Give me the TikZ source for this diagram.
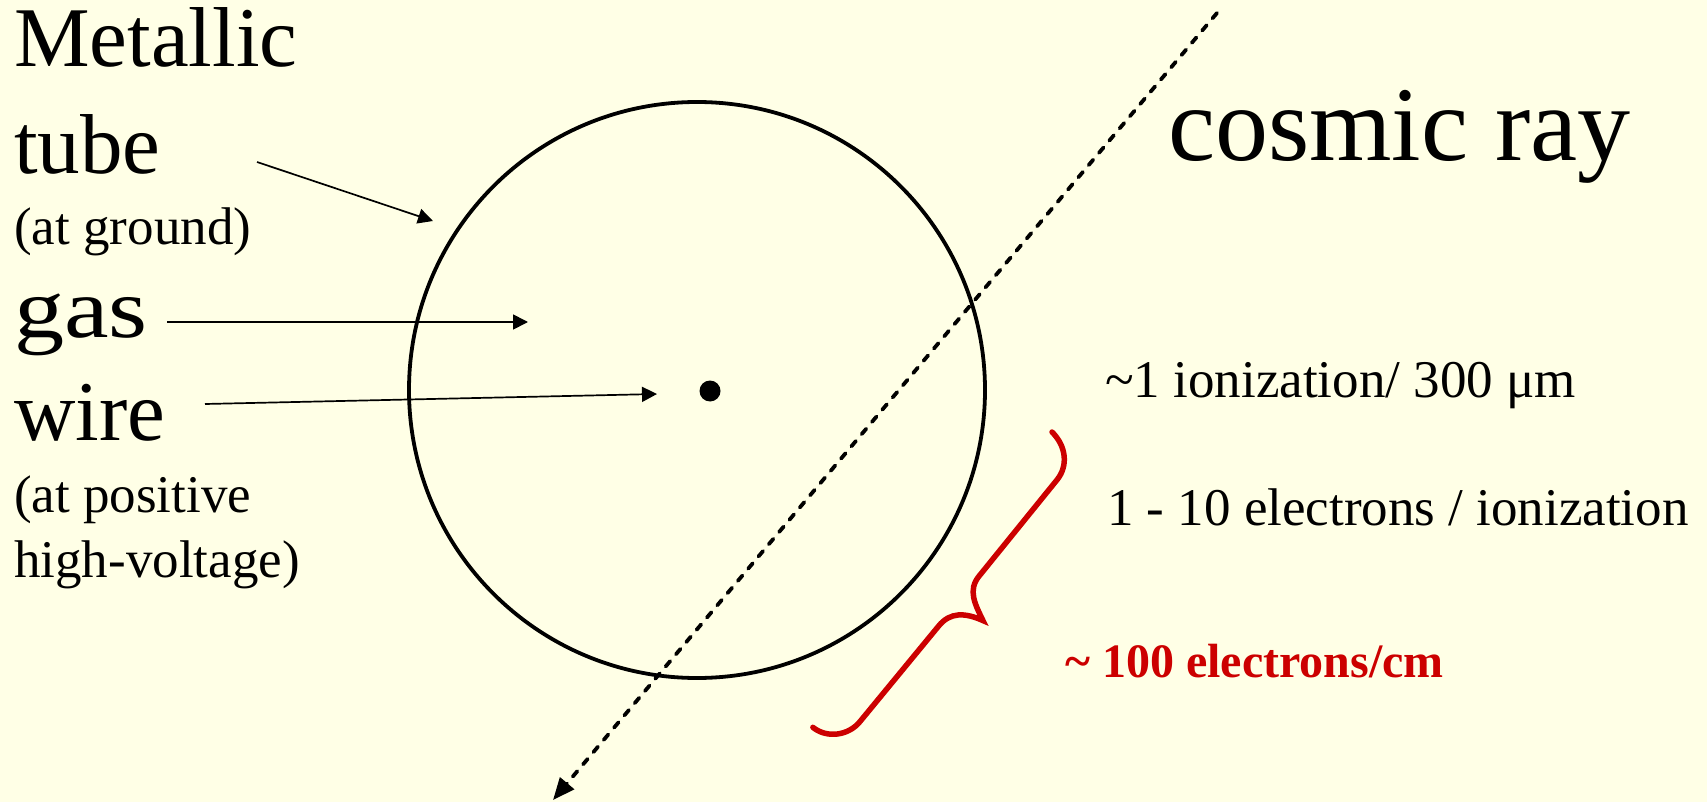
\documentclass[tikz,border=0pt]{standalone}
\usepackage{fontspec}
\setmainfont{Liberation Serif}
\usepackage{graphicx}
\usepackage{tikz}
\usetikzlibrary{arrows.meta,positioning}
\definecolor{paper}{HTML}{FFFFE6}
\definecolor{braced}{HTML}{CC0000}
\tikzset{
  bigword/.style={
    anchor=base west, inner sep=0pt,
    font=\fontsize{85}{102}\selectfont
  },
  smallword/.style={
    anchor=base west, inner sep=0pt,
    font=\fontsize{53}{64}\selectfont
  },
  pointer/.style={
    -{Triangle[length=15pt,width=15pt]}, line width=1.7pt
  },
  rayline/.style={
    -{Triangle[length=22pt,width=18pt]}, line width=3.8pt,
    dash pattern=on 7pt off 9pt, line cap=round
  },
  redbrace/.style={
    line width=5.5pt, color=braced, line cap=round
  },
}

\begin{document}
\begin{tikzpicture}[x=1pt,y=-1pt]
  \fill[paper] (0,0) rectangle (1707,802);
  \useasboundingbox (0,0) rectangle (1707,802);

  % tube and wire
  \node[circle, draw, line width=3.8pt, minimum size=576pt,
    inner sep=0pt] (tube) at (697,390) {};
  \node[circle, fill, minimum size=21pt, inner sep=0pt]
    (wire) at (710,391) {};

  % left labels
  \node[bigword] (metal) at (14,67) {Metallic};
  \node[bigword] (tubeword) at (14,174) {tube};
  \node[smallword] (ground) at (14,245) {(at ground)};
  \node[bigword] (gasword) at (14,337) {\scalebox{1.18}[1]{gas}};
  \node[bigword] (wireword) at (14,440) {wire};
  \node[smallword] (pos) at (14,512) {(at positive};
  \node[smallword] (hv) at (14,577) {high-voltage)};

  \coordinate (tubefrom) at (257,162);
  \coordinate (tubeto) at (433,221);
  \coordinate (gasfrom) at (167,322);
  \coordinate (gasto) at (528,322);
  \coordinate (wirefrom) at (205,404);
  \coordinate (wireto) at (657,394);
  \draw[pointer] (tubefrom) -- (tubeto);
  \draw[pointer] (gasfrom) -- (gasto);
  \draw[pointer] (wirefrom) -- (wireto);

  % the track
  \coordinate (rayfrom) at (1217,13);
  \coordinate (rayto) at (553,800);
  \draw[rayline] (rayfrom) -- (rayto);
  \node[anchor=base west, inner sep=0pt,
    font=\fontsize{106}{127}\selectfont] (cosmic) at (1168,161) {cosmic ray};

  % right labels
  \node[smallword] (ion) at (1105,397) {\textasciitilde1 ionization/ 300 μm};
  \node[smallword] (elec) at (1107,525) {1 - 10 electrons / ionization};

  % brace along the track, u along it, w towards the tip
  \coordinate (bracetop) at (1052,432);
  \begin{scope}[shift={(bracetop)}, rotate=-129, yscale=-1]
    \draw[redbrace] (0,0) .. controls (2,20) and (16,34) .. (34,34)
      -- (158,34) .. controls (176,34) and (182,48) .. (190,65)
      .. controls (195,46) and (204,34) .. (222,34)
      -- (346,33) .. controls (364,33) and (380,18) .. (380,0);
  \end{scope}
  \node[anchor=base west, inner sep=0pt, text=braced,
    font=\fontsize{48}{58}\selectfont\bfseries] (count) at (1065,677)
    {\textasciitilde{} 100 electrons/cm};
\end{tikzpicture}
\end{document}
